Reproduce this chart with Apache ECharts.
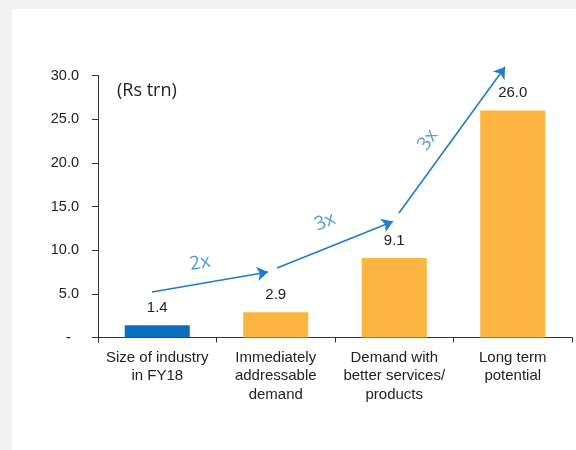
<!DOCTYPE html>
<html>
<head>
<meta charset="utf-8">
<script src="https://cdn.jsdelivr.net/npm/echarts@6/dist/echarts.min.js"></script>
<style>
html,body{margin:0;padding:0;background:#f2f2f2;}
#chart{width:576px;height:450px;}
</style>
</head>
<body>
<div id="chart"></div>
<script>
// ---- data ----
var categories = ['Size of industry\nin FY18', 'Immediately\naddressable\ndemand', 'Demand with\nbetter services/\nproducts', 'Long term\npotential'];
var values = [1.4, 2.9, 9.1, 26.0];
var barColors = ['#0A6EBD', '#FBB540', '#FBB540', '#FBB540'];
var yTicks = { min: 0, max: 30, interval: 5 };
var unitLabel = '(Rs trn)';
// growth arrows in category-index / value units: [x1, y1, x2, y2]
var arrows = [
  [-0.044, 5.21, 0.935, 7.50],
  [1.011, 7.96, 1.989, 13.29],
  [2.04, 14.26, 2.935, 30.98]
];
// growth multiples: [x, y, text, rotation]
var multiples = [
  [0.361, 8.53, '2x', 10],
  [1.416, 13.23, '3x', 22],
  [2.285, 22.62, '3x', 55]
];

var textColor = '#222222';
var arrowColor = '#1C7DCD';
var font = 'Liberation Sans, Arial, sans-serif';

var chart = echarts.init(document.getElementById('chart'), null, {renderer: 'canvas'});
chart.setOption({
  backgroundColor: '#f2f2f2',
  animation: false,
  graphic: [
    { type: 'rect', left: 12, top: 9, shape: { width: 564, height: 441 }, style: { fill: '#ffffff' }, z: -10, silent: true },
    { type: 'text', left: 117, top: 82, style: { text: unitLabel, fill: textColor, font: '18px "Open Sans", sans-serif' }, z: 10 }
  ],
  grid: { left: 98, right: 4, top: 75.5, bottom: 112.5, containLabel: false },
  xAxis: [
    {
      type: 'category',
      data: categories,
      axisLine: { onZero: false, lineStyle: { color: '#333', width: 1 } },
      axisTick: { show: true, alignWithLabel: false, interval: 0, length: 5, lineStyle: { color: '#333' } },
      axisLabel: { interval: 0, color: textColor, fontFamily: font, fontSize: 15, lineHeight: 18.5, margin: 11 },
      splitLine: { show: false }
    },
    {
      type: 'value', show: false, min: -0.5, max: 3.5, position: 'top',
      axisLine: { onZero: false }
    }
  ],
  yAxis: {
    type: 'value',
    min: yTicks.min, max: yTicks.max, interval: yTicks.interval,
    axisLine: { show: true, onZero: false, lineStyle: { color: '#333', width: 1 } },
    axisTick: { show: true, length: 6, lineStyle: { color: '#333' } },
    splitLine: { show: false },
    axisLabel: {
      color: textColor, fontFamily: font, fontSize: 14.5, margin: 19,
      formatter: function (v) { return v === 0 ? '-  ' : v.toFixed(1); }
    }
  },
  series: [
    {
      type: 'bar',
      data: values.map(function (v, i) { return { value: v, itemStyle: { color: barColors[i] } }; }),
      barWidth: 65,
      label: {
        show: true, position: 'top', distance: 10, color: textColor, fontFamily: font, fontSize: 15,
        formatter: function (p) { return p.value.toFixed(1); }
      },
      z: 2
    },
    {
      type: 'lines',
      coordinateSystem: 'cartesian2d',
      xAxisIndex: 1, yAxisIndex: 0,
      clip: false,
      symbol: ['none', 'arrow'],
      symbolSize: 11,
      lineStyle: { color: arrowColor, width: 1.6, curveness: 0, opacity: 1 },
      data: arrows.map(function (a) { return { coords: [[a[0], a[1]], [a[2], a[3]]] }; }),
      z: 5
    },
    {
      type: 'scatter',
      xAxisIndex: 1, yAxisIndex: 0,
      symbolSize: 0,
      clip: false,
      data: multiples.map(function (m) {
        return { value: [m[0], m[1]], label: { rotate: m[3] }, name: m[2] };
      }),
      label: {
        show: true, position: 'inside', color: '#2A86D2',
        fontFamily: '"Open Sans", sans-serif', fontSize: 19, fontWeight: 'normal',
        formatter: function (p) { return p.name; }
      },
      z: 6
    }
  ]
});
</script>
</body>
</html>
